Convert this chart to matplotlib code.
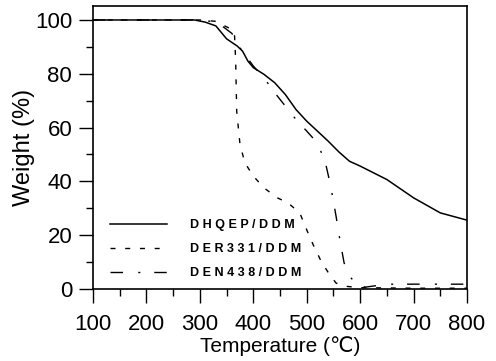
import matplotlib.pyplot as plt
from matplotlib.ticker import MultipleLocator

plt.rcParams['font.family'] = ['Liberation Sans', 'DejaVu Sans']

# TGA curves
dhqep_t = [100, 200, 290, 310, 330, 350, 370, 380, 390, 400, 420, 440, 460, 480,
           500, 520, 540, 550, 560, 580, 600, 650, 700, 750, 800]
dhqep_w = [100, 100, 100, 99.2, 97.8, 93.0, 90.3, 88.4, 84.7, 82.3, 79.8, 76.7, 72.3, 66.7,
           62.4, 58.7, 55.0, 53.0, 51.0, 47.5, 45.7, 40.7, 33.9, 28.3, 25.6]

der331_t = [100, 200, 300, 330, 340, 360, 365, 367, 369, 372, 375, 384, 400, 420,
            445, 465, 487, 500, 512, 527, 543, 555, 574, 600, 650, 700, 800]
der331_w = [100, 100, 100, 99.5, 98.4, 96.5, 94.0, 85.0, 66.0, 60.0, 54.0, 47.0, 42.0, 37.6,
            33.9, 32.0, 28.3, 22.0, 16.5, 10.3, 5.3, 2.2, 1.0, 0.5, 0.4, 0.3, 0.3]

den438_t = [100, 200, 300, 320, 340, 360, 375, 400, 420, 440, 460, 480, 500, 520,
            535, 545, 555, 562, 570, 580, 595, 610, 650, 700, 800]
den438_w = [100, 100, 100, 99.5, 98.0, 95.0, 89.7, 82.9, 78.5, 73.0, 68.0, 63.0, 58.7, 54.3,
            47.0, 38.2, 27.0, 18.4, 9.7, 4.7, 1.6, 0.7, 1.8, 1.8, 1.8]

labels = ["D H Q E P / D D M", "D E R 3 3 1 / D D M", "D E N 4 3 8 / D D M"]


def main():
    fig = plt.figure(figsize=(4.96, 3.61), dpi=100)
    ax = fig.add_axes([0.1875, 0.1994, 0.754, 0.784])

    ax.plot(dhqep_t, dhqep_w, color='black', lw=1.1, label=labels[0])
    ax.plot(der331_t, der331_w, color='black', lw=1.0, dashes=(3.6, 7.0), label=labels[1])
    ax.plot(den438_t, den438_w, color='black', lw=1.0, dashes=(9, 11, 1.5, 10), label=labels[2])

    ax.set_xlim(100, 800)
    ax.set_ylim(0, 105.2)
    ax.xaxis.set_major_locator(MultipleLocator(100))
    ax.xaxis.set_minor_locator(MultipleLocator(50))
    ax.yaxis.set_major_locator(MultipleLocator(20))
    ax.yaxis.set_minor_locator(MultipleLocator(10))
    ax.tick_params(which='major', direction='out', length=10, width=1.0, labelsize=16)
    ax.tick_params(axis='x', which='major', pad=8)
    ax.tick_params(axis='y', which='major', pad=5)
    ax.tick_params(which='minor', direction='out', length=5, width=1.0)
    for s in ax.spines.values():
        s.set_linewidth(1.2)

    ax.set_xlabel("Temperature (\u2103)", fontsize=15, labelpad=1)
    ax.set_ylabel("Weight (%)", fontsize=17, labelpad=0)

    ax.legend(loc='lower left', bbox_to_anchor=(0.045, 0.035), frameon=False,
              prop={'size': 9, 'weight': 'bold'}, handlelength=4.6,
              handletextpad=1.8, labelspacing=0.95, borderpad=0, borderaxespad=0)

    fig.savefig("out.png", dpi=100)
    plt.close(fig)


if __name__ == "__main__":
    main()
